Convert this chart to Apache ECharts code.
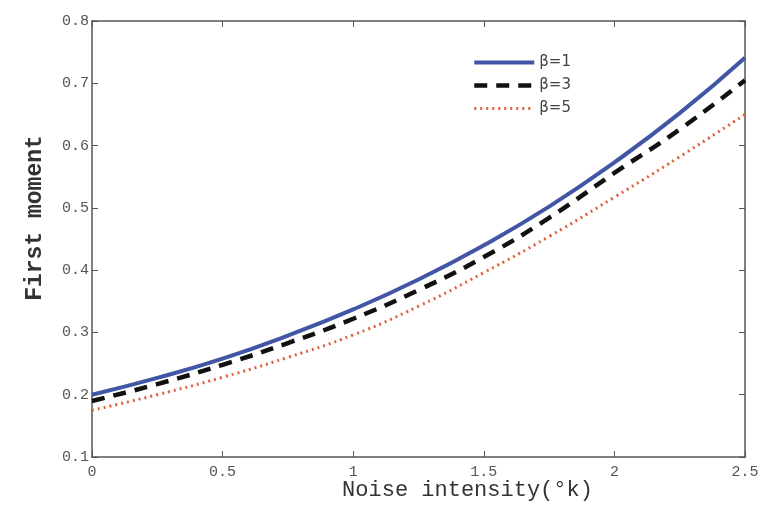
<!DOCTYPE html>
<html>
<head>
<meta charset="utf-8">
<script src="https://cdn.jsdelivr.net/npm/echarts@6/dist/echarts.min.js"></script>
<style>html,body{margin:0;padding:0;background:#fff;}#c{width:771px;height:513px;}</style>
</head>
<body>
<div id="c"></div>
<script>
const noise = [0, 0.25, 0.5, 0.75, 1, 1.25, 1.5, 1.75, 2, 2.25, 2.5];
const beta1 = [0.200, 0.227, 0.258, 0.295, 0.337, 0.385, 0.440, 0.502, 0.573, 0.652, 0.741];
const beta3 = [0.190, 0.217, 0.248, 0.283, 0.322, 0.368, 0.421, 0.484, 0.556, 0.626, 0.705];
const beta5 = [0.175, 0.200, 0.228, 0.260, 0.296, 0.342, 0.396, 0.454, 0.517, 0.582, 0.650];
const seriesNames = ['β=1', 'β=3', 'β=5'];
const xTitle = 'Noise intensity(°k)';
const yTitle = 'First moment';

const pairs = arr => noise.map((x, i) => [x, arr[i]]);
const mono = '"Liberation Mono", "DejaVu Sans Mono", monospace';
const axisCol = '#555';
const colors = ['#4256a6', '#111', '#e0603e'];
const lineStyles = [
  {color: colors[0], width: 4, type: 'solid'},
  {color: colors[1], width: 4.5, type: [13, 9]},
  {color: colors[2], width: 3, type: [2, 4]}
];

const chart = echarts.init(document.getElementById('c'), null, {renderer: 'canvas'});
const baseAxis = {
  axisLine: {show: true, onZero: false, lineStyle: {color: axisCol, width: 1.5}},
  axisTick: {show: true, inside: true, length: 6, lineStyle: {color: axisCol}},
  splitLine: {show: false}
};
chart.setOption({
  animation: false,
  backgroundColor: '#fff',
  grid: {left: 92, right: 26, top: 21, bottom: 56, containLabel: false, outerBoundsMode: 'none'},
  legend: {
    orient: 'vertical', left: 467, top: 50, itemWidth: 60, itemHeight: 12, itemGap: 8,
    textStyle: {fontFamily: '"DejaVu Sans", sans-serif', fontSize: 15, color: '#444'},
    data: seriesNames.map((n, i) => ({
      name: n,
      itemStyle: {color: 'rgba(0,0,0,0)', borderWidth: 0, opacity: 0},
      lineStyle: Object.assign({}, lineStyles[i])
    }))
  },
  xAxis: [
    Object.assign({}, baseAxis, {
      type: 'value', min: 0, max: 2.5, interval: 0.5, position: 'bottom',
      axisLabel: {fontFamily: mono, fontSize: 15, color: '#555', margin: 8},
      name: xTitle, nameLocation: 'middle', nameGap: 22, nameMoveOverlap: false,
      nameTextStyle: {fontFamily: mono, fontSize: 22, color: '#333', padding: [0, 0, 0, 98]}
    }),
    Object.assign({}, baseAxis, {
      type: 'value', min: 0, max: 2.5, interval: 0.5, position: 'top',
      axisLabel: {show: false}
    })
  ],
  yAxis: [
    Object.assign({}, baseAxis, {
      type: 'value', min: 0.1, max: 0.8, interval: 0.1, position: 'left',
      axisLabel: {fontFamily: mono, fontSize: 15, color: '#555', margin: 3,
        formatter: v => v.toFixed(1)},
      name: yTitle, nameLocation: 'middle', nameGap: 45, nameMoveOverlap: false,
      nameTextStyle: {fontFamily: mono, fontSize: 23, color: '#333', fontWeight: 'bold', padding: [0, 0, 0, 42]}
    }),
    Object.assign({}, baseAxis, {
      type: 'value', min: 0.1, max: 0.8, interval: 0.1, position: 'right',
      axisLabel: {show: false}
    })
  ],
  series: [beta1, beta3, beta5].map((arr, i) => ({
    name: seriesNames[i], type: 'line', data: pairs(arr), smooth: true, symbol: 'none',
    color: colors[i], lineStyle: Object.assign({}, lineStyles[i])
  }))
});
</script>
</body>
</html>
